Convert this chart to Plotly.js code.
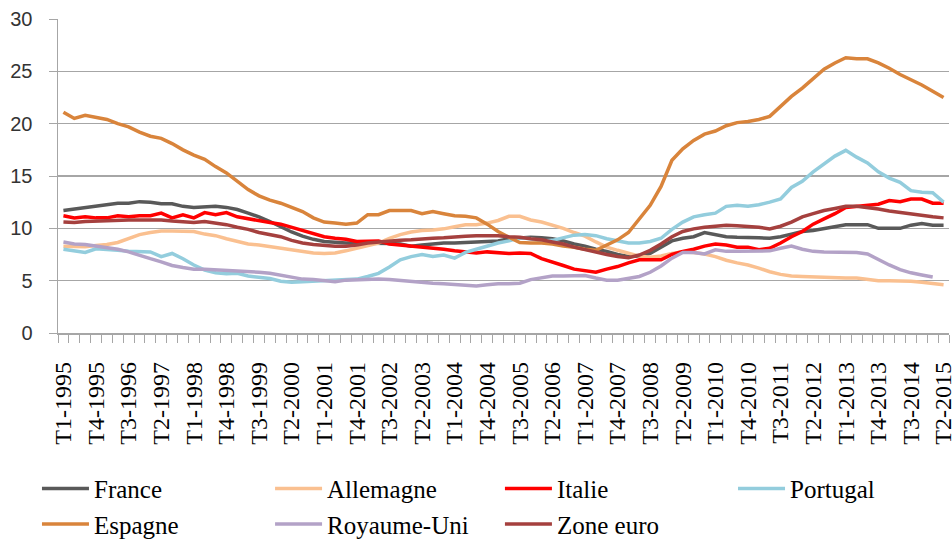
<!DOCTYPE html>
<html>
<head>
<meta charset="utf-8">
<script src="https://cdn.plot.ly/plotly-3.0.1.min.js"></script>
<style>
  html, body { margin: 0; padding: 0; background: #fff; }
  #plotArea { width: 952px; height: 539px; }
</style>
</head>
<body>
<div id="plotArea"></div>
<script>
// quarters T1-1995 .. T2-2015
var quarters = [];
for (var yr = 1995; yr <= 2015; yr++) {
    for (var q = 1; q <= 4; q++) {
        if (yr === 2015 && q > 2) break;
        quarters.push("T" + q + "-" + yr);
    }
}

var france = [11.7, 11.85, 12.0, 12.15, 12.3, 12.4, 12.4, 12.55, 12.5, 12.35,
    12.35, 12.1, 12.0, 12.05, 12.1, 12.0, 11.8, 11.45, 11.1, 10.65,
    10.15, 9.65, 9.25, 8.95, 8.75, 8.65, 8.6, 8.6, 8.6, 8.6,
    8.55, 8.5, 8.3, 8.4, 8.5, 8.6, 8.6, 8.65, 8.7, 8.75,
    8.8, 9.0, 9.1, 9.15, 9.1, 9.0, 8.8, 8.5, 8.3, 8.0,
    7.8, 7.5, 7.3, 7.35, 7.6, 8.2, 8.8, 9.05, 9.2, 9.6,
    9.4, 9.2, 9.15, 9.15, 9.1, 9.05, 9.2, 9.45, 9.7, 9.8,
    10.0, 10.2, 10.35, 10.35, 10.35, 10.0, 10.0, 10.0, 10.3, 10.45,
    10.3, 10.3];

var allemagne = [8.3, 8.25, 8.25, 8.35, 8.45, 8.65, 9.0, 9.4, 9.6, 9.75,
    9.75, 9.75, 9.7, 9.45, 9.3, 9.0, 8.75, 8.5, 8.4, 8.25,
    8.05, 7.9, 7.75, 7.65, 7.6, 7.65, 7.85, 8.1, 8.35, 8.6,
    9.05, 9.4, 9.65, 9.8, 9.85, 9.95, 10.15, 10.35, 10.35, 10.5,
    10.75, 11.15, 11.15, 10.8, 10.6, 10.3, 10.0, 9.6, 9.25, 8.7,
    8.2, 7.9, 7.6, 7.35, 7.25, 7.35, 7.6, 7.75, 7.7, 7.55,
    7.3, 6.95, 6.7, 6.5, 6.2, 5.85, 5.6, 5.45, 5.4, 5.35,
    5.3, 5.25, 5.25, 5.25, 5.1, 5.0, 5.0, 5.0, 4.95, 4.85,
    4.7, 4.6];

var italie = [11.2, 11.0, 11.1, 11.0, 11.0, 11.2, 11.1, 11.2, 11.2, 11.45,
    11.0, 11.3, 11.0, 11.5, 11.3, 11.5, 11.1, 10.9, 10.7, 10.55,
    10.4, 10.1, 9.75, 9.45, 9.2, 9.05, 8.95, 8.75, 8.8, 8.8,
    8.5, 8.4, 8.35, 8.2, 8.1, 8.0, 7.85, 7.75, 7.65, 7.75,
    7.7, 7.6, 7.65, 7.6, 7.1, 6.8, 6.45, 6.1, 5.95, 5.8,
    6.1, 6.35, 6.7, 7.0, 7.0, 7.0, 7.5, 7.8, 8.0, 8.3,
    8.5, 8.4, 8.2, 8.2, 7.95, 8.1, 8.6, 9.2, 9.7, 10.4,
    10.9, 11.4, 12.0, 12.1, 12.2, 12.3, 12.65, 12.55, 12.8, 12.8,
    12.4, 12.4];

var portugal = [8.0, 7.85, 7.7, 8.05, 8.0, 7.9, 7.8, 7.8, 7.75, 7.3,
    7.6, 7.1, 6.5, 6.0, 5.75, 5.65, 5.7, 5.45, 5.3, 5.2,
    4.95, 4.85, 4.9, 4.95, 5.0, 5.05, 5.1, 5.15, 5.4, 5.7,
    6.3, 7.0, 7.3, 7.5, 7.3, 7.45, 7.15, 7.7, 8.0, 8.3,
    8.6, 8.8, 9.1, 9.0, 8.8, 8.85, 9.1, 9.35, 9.4, 9.3,
    9.0, 8.8, 8.6, 8.6, 8.75, 9.05, 9.9, 10.6, 11.1, 11.3,
    11.45, 12.1, 12.2, 12.1, 12.25, 12.5, 12.8, 13.9, 14.5, 15.4,
    16.1, 16.9, 17.45, 16.8, 16.25, 15.4, 14.8, 14.4, 13.6, 13.45,
    13.4, 12.5];

var espagne = [21.1, 20.5, 20.8, 20.6, 20.4, 20.0, 19.7, 19.2, 18.8, 18.6,
    18.1, 17.5, 17.0, 16.6, 15.9, 15.3, 14.5, 13.7, 13.1, 12.7,
    12.4, 12.0, 11.6, 11.0, 10.6, 10.5, 10.4, 10.5, 11.3, 11.3,
    11.7, 11.7, 11.7, 11.4, 11.6, 11.4, 11.2, 11.15, 11.0, 10.4,
    9.7, 9.15, 8.65, 8.6, 8.6, 8.5, 8.3, 8.2, 8.0, 7.9,
    8.4, 8.9, 9.6, 10.9, 12.2, 14.0, 16.5, 17.6, 18.4, 19.0,
    19.3, 19.8, 20.1, 20.2, 20.4, 20.7, 21.7, 22.6, 23.4, 24.3,
    25.2, 25.8, 26.3, 26.2, 26.2, 25.8, 25.3, 24.7, 24.2, 23.7,
    23.1, 22.5];

var royaumeUni = [8.7, 8.5, 8.45, 8.3, 8.1, 8.0, 7.75, 7.4, 7.1, 6.8,
    6.45, 6.25, 6.1, 6.1, 6.05, 6.0, 5.95, 5.85, 5.8, 5.7,
    5.5, 5.3, 5.15, 5.1, 5.0, 4.9, 5.05, 5.1, 5.15, 5.15,
    5.1, 5.0, 4.95, 4.85, 4.75, 4.7, 4.65, 4.6, 4.5, 4.6,
    4.7, 4.7, 4.75, 5.1, 5.3, 5.45, 5.45, 5.5, 5.5, 5.25,
    5.05, 5.05, 5.2, 5.4, 5.8, 6.4, 7.15, 7.7, 7.7, 7.55,
    7.95, 7.8, 7.8, 7.8, 7.8, 7.85, 8.1, 8.3, 8.0, 7.8,
    7.75, 7.75, 7.75, 7.7, 7.55, 7.0, 6.5, 6.05, 5.75, 5.55,
    5.35, null];

var zoneEuro = [10.6, 10.55, 10.65, 10.7, 10.7, 10.8, 10.8, 10.8, 10.8, 10.8,
    10.7, 10.65, 10.55, 10.65, 10.5, 10.35, 10.1, 9.9, 9.6, 9.4,
    9.2, 8.85, 8.6, 8.45, 8.35, 8.3, 8.3, 8.4, 8.6, 8.7,
    8.8, 8.85, 8.9, 9.0, 9.05, 9.1, 9.2, 9.25, 9.3, 9.3,
    9.3, 9.2, 9.15, 9.0, 8.9, 8.7, 8.5, 8.2, 7.95, 7.7,
    7.5, 7.3, 7.2, 7.45, 7.9, 8.5, 9.2, 9.7, 9.95, 10.1,
    10.2, 10.3, 10.25, 10.2, 10.1, 9.95, 10.2, 10.6, 11.1, 11.4,
    11.7, 11.9, 12.1, 12.1, 12.0, 11.85, 11.65, 11.5, 11.4, 11.25,
    11.1, 11.0];

var names = ["France", "Allemagne", "Italie", "Portugal", "Espagne", "Royaume-Uni", "Zone euro"];
var series = [france, allemagne, italie, portugal, espagne, royaumeUni, zoneEuro];
var colors = ["#595959", "#FAC090", "#FF0000", "#93CDDD", "#D9843B", "#B3A2C7", "#A5403E"];
// legend column of each series (two rows, four columns like the original)
var legendCol = ["legend", "legend2", "legend3", "legend4", "legend", "legend2", "legend3"];

// label every third quarter, tick on every quarter
var tickText = quarters.map(function (q, i) { return i % 3 === 0 ? q : ""; });

var data = series.map(function (s, i) {
    return {
        x: quarters,
        y: s,
        name: names[i],
        legend: legendCol[i],
        type: "scatter",
        mode: "lines",
        line: {color: colors[i], width: 3.5},
        hoverinfo: "x+y+name"
    };
});

var serif = "Liberation Serif";
function legendAt(x) {
    return {
        x: x, xanchor: "left",
        yref: "container",
        y: 0.136, yanchor: "top",
        itemwidth: 47,
        tracegroupgap: 0,
        bgcolor: "rgba(0,0,0,0)",
        font: {family: serif, size: 25, color: "#000"}
    };
}

var layout = {
    width: 952,
    height: 539,
    margin: {l: 58, r: 3, t: 19, b: 206},
    paper_bgcolor: "#fff",
    plot_bgcolor: "#fff",
    showlegend: true,
    xaxis: {
        type: "category",
        range: [-0.5, 81.5],
        automargin: false,
        tickmode: "array",
        tickvals: quarters,
        ticktext: tickText,
        tickson: "boundaries",
        ticks: "outside",
        ticklen: 8,
        tickcolor: "#A6A6A6",
        tickangle: -90,
        ticklabelstandoff: 18,
        tickfont: {family: serif, size: 24, color: "#000"},
        showline: true,
        linecolor: "#A6A6A6",
        linewidth: 1.5,
        showgrid: false,
        zeroline: false
    },
    yaxis: {
        range: [0, 30],
        dtick: 5,
        automargin: false,
        ticks: "outside",
        ticklen: 8,
        tickcolor: "#A6A6A6",
        ticklabelstandoff: 12,
        tickfont: {family: "Liberation Sans", size: 20, color: "#333"},
        showline: true,
        linecolor: "#A6A6A6",
        linewidth: 1.5,
        gridcolor: "#A6A6A6",
        gridwidth: 1.5,
        zeroline: false
    },
    legend: legendAt(-0.0236),
    legend2: legendAt(0.238),
    legend3: legendAt(0.496),
    legend4: legendAt(0.7576)
};

Plotly.newPlot("plotArea", data, layout, {displayModeBar: false, staticPlot: true});
</script>
</body>
</html>
